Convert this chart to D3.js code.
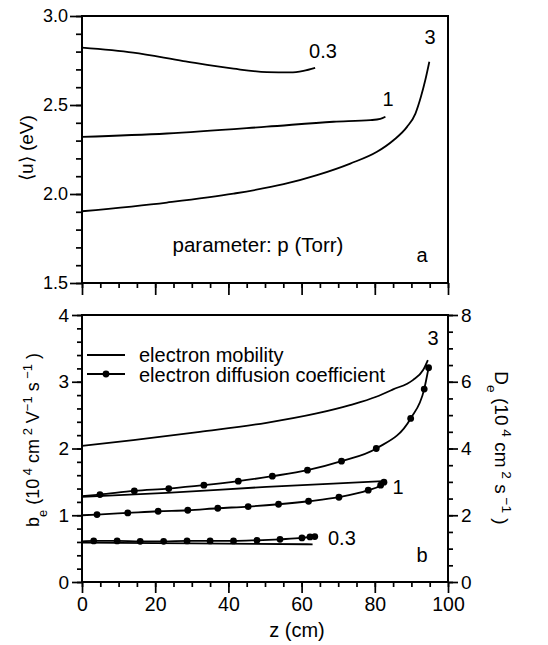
<!DOCTYPE html>
<html><head><meta charset="utf-8">
<script src="https://cdn.jsdelivr.net/npm/d3@7"></script>
<style>
body{margin:0;background:#fff;}
text{font-family:"Liberation Sans",Arial,sans-serif;fill:#000;}
</style></head>
<body>
<svg id="c" width="548" height="645"></svg>
<script>
// ---------- data ----------
// Panel a: mean energy <u> (eV) vs z (cm)
const uP03 = [[0,2.822],[14,2.794],[27.7,2.747],[41.4,2.704],[50.5,2.685],[56.9,2.683],[60.5,2.692],[63.7,2.709]];
const uP1  = [[0,2.321],[23.2,2.34],[50.5,2.378],[68.7,2.406],[78.8,2.415],[81.5,2.422],[82.9,2.434]];
const uP3  = [[0,1.903],[23.2,1.952],[41.4,2.002],[55.1,2.055],[64.2,2.106],[73.3,2.171],[80.6,2.237],[85.1,2.302],[88.8,2.377],[91.1,2.452],[92.6,2.546],[93.8,2.64],[94.9,2.743]];
// Panel b: electron mobility b_e (left axis)
const bP3  = [[0,2.04],[14,2.125],[32.2,2.25],[50.4,2.385],[64.1,2.525],[73.2,2.65],[80.4,2.775],[85,2.885],[90.4,3.025],[93.2,3.175],[94.5,3.325]];
const bP1  = [[0,1.275],[23.1,1.335],[50.4,1.425],[68.6,1.475],[82.3,1.51]];
const bP03 = [[0,0.59],[30,0.58],[63,0.565]];
// Panel b: electron diffusion coefficient D_e (right axis); first point is line start (no marker)
const dP3  = [[0,2.57],[4.9,2.62],[14.3,2.73],[23.7,2.80],[33.3,2.90],[42.7,3.02],[52.0,3.17],[61.6,3.35],[70.9,3.62],[80.4,4.0],[89.8,4.9],[93.5,5.78],[94.7,6.42]];
const dP1  = [[0,2.0],[4.1,2.02],[12.5,2.07],[20.8,2.12],[28.9,2.15],[37.1,2.21],[45.4,2.26],[53.7,2.33],[61.9,2.42],[70.2,2.54],[78.2,2.75],[81.6,2.90],[82.5,2.99]];
const dP03 = [[0,1.22],[3.2,1.23],[9.6,1.23],[15.9,1.22],[22.3,1.22],[28.7,1.23],[35.0,1.23],[41.4,1.23],[47.8,1.25],[54.1,1.28],[60.1,1.32],[62.3,1.35],[63.6,1.36]];
// ticks
const zMajor = [0,20,40,60,80,100];
const zMinor = d3.range(0,101,5);
const uMajor = [1.5,2.0,2.5,3.0];
const uMinor = d3.range(15,31,1).map(v=>v/10);
const bMajor = [0,1,2,3,4];
const bMinor = d3.range(0,21,1).map(v=>v/5);
const dMajor = [0,2,4,6,8];
const dMinor = d3.range(0,17,1).map(v=>v/2);

// ---------- layout ----------
const svg = d3.select("#c");
const L=82, R=448;
const x = d3.scaleLinear().domain([0,100]).range([L,R]);
const yU = d3.scaleLinear().domain([1.5,3.0]).range([283,16]);
const yB = d3.scaleLinear().domain([0,4]).range([582,315]);
const yD = d3.scaleLinear().domain([0,8]).range([582,315]);

function axisGroup(gen, tf){
  const g = svg.append("g").attr("transform",tf).call(gen);
  g.selectAll(".domain").remove();
  g.selectAll("line").attr("stroke","#000").attr("stroke-width",1.7);
  return g;
}
// top panel axes
axisGroup(d3.axisLeft(yU).tickValues(uMinor).tickSize(6).tickFormat(""),`translate(${L},0)`);
axisGroup(d3.axisLeft(yU).tickValues(uMajor).tickSize(12).tickPadding(2).tickFormat(d3.format(".1f")),`translate(${L},0)`)
  .selectAll("text").attr("font-size",18).attr("fill","#000");
axisGroup(d3.axisBottom(x).tickValues(zMinor).tickSize(5).tickFormat(""),`translate(0,283)`);
axisGroup(d3.axisBottom(x).tickValues(zMajor).tickSize(12).tickFormat(""),`translate(0,283)`);
svg.append("rect").attr("x",L).attr("y",16).attr("width",R-L).attr("height",283-16)
  .attr("fill","none").attr("stroke","#000").attr("stroke-width",2);

// bottom panel axes
axisGroup(d3.axisLeft(yB).tickValues(bMinor).tickSize(5).tickFormat(""),`translate(${L},0)`);
axisGroup(d3.axisLeft(yB).tickValues(bMajor).tickSize(10).tickPadding(3).tickFormat(d3.format("d")),`translate(${L},0)`)
  .selectAll("text").attr("font-size",19).attr("fill","#000");
axisGroup(d3.axisRight(yD).tickValues(dMinor).tickSize(5).tickFormat(""),`translate(${R},0)`);
axisGroup(d3.axisRight(yD).tickValues(dMajor).tickSize(10).tickPadding(3).tickFormat(d3.format("d")),`translate(${R},0)`)
  .selectAll("text").attr("font-size",19).attr("fill","#000");
axisGroup(d3.axisBottom(x).tickValues(zMinor).tickSize(5).tickFormat(""),`translate(0,582)`);
axisGroup(d3.axisBottom(x).tickValues(zMajor).tickSize(11).tickPadding(4).tickFormat(d3.format("d")),`translate(0,582)`)
  .selectAll("text").attr("font-size",19.5).attr("fill","#000");
svg.append("rect").attr("x",L).attr("y",315).attr("width",R-L).attr("height",582-315)
  .attr("fill","none").attr("stroke","#000").attr("stroke-width",2);

// ---------- curves ----------
const lineU = d3.line().x(d=>x(d[0])).y(d=>yU(d[1])).curve(d3.curveMonotoneX);
const lineB = d3.line().x(d=>x(d[0])).y(d=>yB(d[1])).curve(d3.curveMonotoneX);
const lineD = d3.line().x(d=>x(d[0])).y(d=>yD(d[1])).curve(d3.curveMonotoneX);
[uP03,uP1,uP3].forEach(s=>svg.append("path").attr("d",lineU(s)).attr("fill","none").attr("stroke","#000").attr("stroke-width",1.8));
[bP3,bP1,bP03].forEach(s=>svg.append("path").attr("d",lineB(s)).attr("fill","none").attr("stroke","#000").attr("stroke-width",1.8));
[dP3,dP1,dP03].forEach(s=>{
  svg.append("path").attr("d",lineD(s)).attr("fill","none").attr("stroke","#000").attr("stroke-width",1.8);
  svg.selectAll(null).data(s.slice(1)).enter().append("circle")
    .attr("cx",d=>x(d[0])).attr("cy",d=>yD(d[1])).attr("r",3.4).attr("fill","#000");
});

// ---------- texts ----------
function txt(xp,yp,s,size,anchor){
  return svg.append("text").attr("x",xp).attr("y",yp).attr("font-size",size).attr("text-anchor",anchor||"start").text(s);
}
txt(323,58,"0.3",20,"middle");
txt(388,106,"1",20,"middle");
txt(430,44,"3",20,"middle");
txt(258,252,"parameter: p (Torr)",20.5,"middle");
txt(422,262,"a",20,"middle");
txt(433,345,"3",20,"middle");
txt(398,494,"1",20,"middle");
txt(328,545,"0.3",20,"start");
txt(422,562,"b",20,"middle");
txt(297,637,"z (cm)",20,"middle");

// legend
svg.append("line").attr("x1",87).attr("x2",125).attr("y1",355).attr("y2",355).attr("stroke","#000").attr("stroke-width",1.8);
txt(139,362,"electron mobility",20);
svg.append("line").attr("x1",87).attr("x2",125).attr("y1",374).attr("y2",374).attr("stroke","#000").attr("stroke-width",1.8);
svg.append("circle").attr("cx",106).attr("cy",374).attr("r",3.4).attr("fill","#000");
txt(139,382,"electron diffusion coefficient",20);

// axis titles
svg.append("text").attr("transform","translate(33,148) rotate(-90)").attr("text-anchor","middle").attr("font-size",19)
  .text("\u27E8u\u27E9 (eV)");
function richLabel(tf, parts, size){
  const t = svg.append("text").attr("transform",tf).attr("text-anchor","middle").attr("font-size",size);
  parts.forEach(p=>{
    const ts = t.append("tspan").text(p[0]);
    if(p[1]==="sup"){ts.attr("baseline-shift","super").attr("font-size",size*0.72);}
    if(p[1]==="sub"){ts.attr("baseline-shift","sub").attr("font-size",size*0.72);}
  });
  return t;
}
richLabel("translate(39,440) rotate(-90)",
  [["b"],["e","sub"],[" (10"],[" 4","sup"],[" cm"],[" 2","sup"],[" V"],["\u22121","sup"],[" s"],[" \u22121","sup"],[" )"]],18);
richLabel("translate(495,448) rotate(90)",
  [["D"],["e","sub"],[" (10"],[" 4","sup"],[" cm"],[" 2","sup"],[" s"],[" \u22121","sup"],[" )"]],19);
</script>
</body></html>
